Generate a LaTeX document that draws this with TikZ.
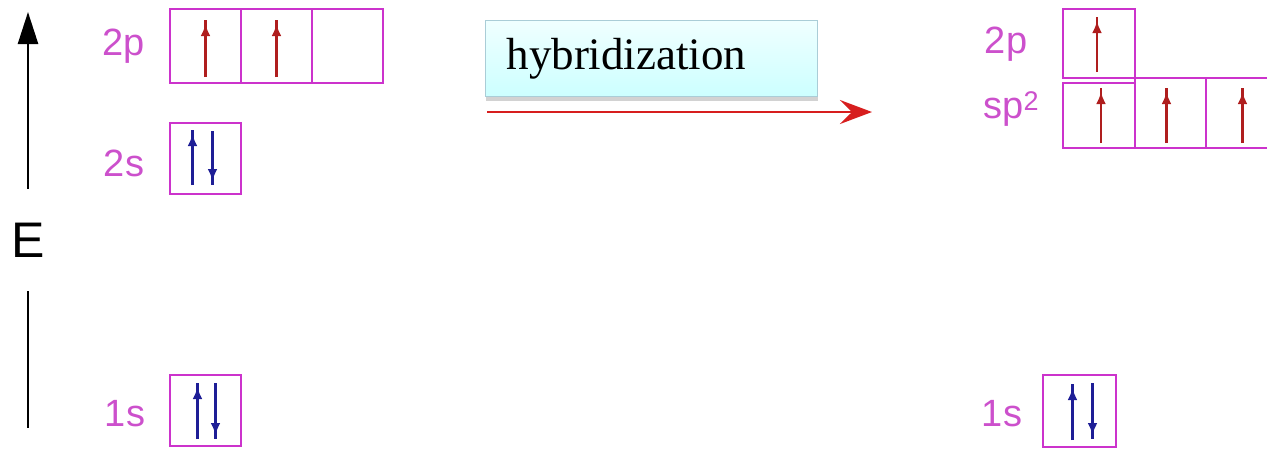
\documentclass[tikz,border=0pt]{standalone}
\usepackage{fontspec}
\setmainfont{Liberation Serif}
\newfontfamily\labelfont{Liberation Sans}
\usetikzlibrary{arrows.meta,shadows,decorations.markings}
\definecolor{orb}{RGB}{204,51,204}
\definecolor{orbtext}{RGB}{204,80,204}
\definecolor{spinred}{RGB}{175,30,30}
\definecolor{spinblue}{RGB}{30,30,150}
\definecolor{hyred}{RGB}{215,30,30}
\definecolor{hyborder}{RGB}{170,205,215}
\tikzset{
  orbital/.style={draw=orb, line width=2pt, inner sep=0pt, outer sep=0pt,
    minimum width=71pt, minimum height=71pt, anchor=north west},
  lvl/.style={text=orbtext, anchor=base, inner sep=0pt,
    font=\labelfont\fontsize{38}{40}\selectfont},
  % electron spin: a line with a small head set just short of its end
  spin/.style={draw=#1, line width=2.6pt,
    decoration={markings, mark=at position -4pt with
      {\arrow[#1]{Latex[length=12pt,width=10pt]}}},
    postaction=decorate},
  upred/.style={spin=spinred},
  upblue/.style={spin=spinblue},
  axis/.style={draw=black, line width=2.5pt},
}
\begin{document}
\begin{tikzpicture}[x=1pt,y=-1pt]
\useasboundingbox (0,0) rectangle (1267,448);

% energy axis
\node[font=\labelfont\fontsize{50}{50}\selectfont, minimum height=102pt, inner sep=0pt]
  (E) at (28,240) {E};
\coordinate (axtop) at (28,12);
\coordinate (axbot) at (28,428);
\draw[axis, -{Triangle[length=32pt,width=20pt]}] (E.north) -- (axtop);
\draw[axis] (E.south) -- (axbot);

% ground-state carbon
\node[orbital, minimum height=74pt] (p1) at (170,9) {};
\node[orbital, minimum height=74pt] (p2) at (p1.north east) {};
\node[orbital, minimum height=74pt] (p3) at (p2.north east) {};
\node[orbital] (s2) at (170,123) {};
\node[orbital] (s1) at (170,375) {};
\node[lvl] (l2p) at (124,55) {2p};
\node[lvl] (l2s) at (124,176) {2s};
\node[lvl] (l1s) at (125,426) {1s};

\draw[upred] ([yshift=6pt]p1.south) -- ++(0,-57);
\draw[upred] ([yshift=6pt]p2.south) -- ++(0,-57);
\draw[upblue] ([xshift=-13pt,yshift=9pt]s2.south) -- ++(0,-55);
\draw[upblue] ([xshift=7pt,yshift=63pt]s2.south) -- ++(0,54);
\draw[upblue] ([xshift=-8pt,yshift=7pt]s1.south) -- ++(0,-56);
\draw[upblue] ([xshift=10pt,yshift=63pt]s1.south) -- ++(0,56);

% hybridization step
\node[anchor=north west, draw=hyborder, line width=1pt,
  top color=cyan!6, bottom color=cyan!20,
  drop shadow={shadow xshift=0pt, shadow yshift=-4pt, fill=black!35, opacity=0.5},
  text width=290pt, inner xsep=21pt, minimum height=76pt, align=left,
  font=\fontsize{45}{48}\selectfont] (hyb) at (485,20) {hybridization};
\coordinate (hstart) at (487,112);
\coordinate (hend) at (872,112);
\draw[draw=hyred, line width=2.5pt, -{Stealth[length=32pt,width=24pt,inset=12pt]}]
  (hstart) -- (hend);

% sp2-hybridized carbon
\node[orbital, minimum width=72pt, minimum height=69pt] (hp) at (1063,9) {};
\node[orbital, minimum width=72pt, minimum height=65pt] (h1) at (1063,83) {};
\node[orbital, minimum height=70pt] (h2) at (1135,78) {};
\node[orbital, minimum height=70pt] (h3) at (h2.north east) {};
\node[orbital, minimum width=73pt, minimum height=72pt] (hs) at (1043,375) {};
\node[lvl] (r2p) at (1006,53) {2p};
\node[lvl] (rsp) at (1011,118) {sp\raisebox{8pt}{\fontsize{27}{27}\selectfont 2}};
\node[lvl] (r1s) at (1002,426) {1s};

\draw[upred] ([xshift=-2pt,yshift=6pt]hp.south) -- ++(0,-55);
\draw[upred] ([xshift=2pt,yshift=5pt]h1.south) -- ++(0,-55);
\draw[upred] ([xshift=-4pt,yshift=5pt]h2.south) -- ++(0,-55);
\draw[upred] ([xshift=1pt,yshift=5pt]h3.south) -- ++(0,-55);
\draw[upblue] ([xshift=-7pt,yshift=7pt]hs.south) -- ++(0,-56);
\draw[upblue] ([xshift=13pt,yshift=64pt]hs.south) -- ++(0,56);
\end{tikzpicture}
\end{document}
